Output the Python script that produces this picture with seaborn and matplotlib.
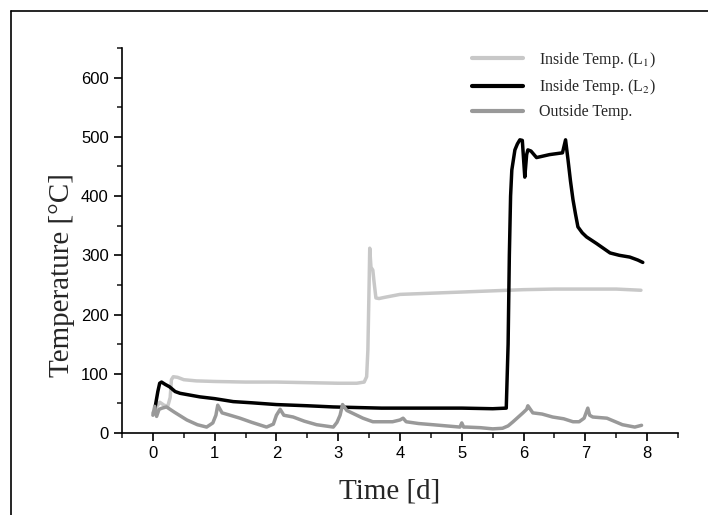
import pandas as pd
import matplotlib
matplotlib.use('Agg')
import matplotlib.pyplot as plt
from matplotlib.lines import Line2D
from matplotlib.ticker import MultipleLocator
import seaborn as sns

# Inside temperature, location L1 (days, degC)
t_l1 = [0.0, 0.05, 0.11, 0.18, 0.24, 0.28, 0.30, 0.33, 0.4, 0.5, 0.7, 1.0, 1.5, 2.0, 2.5, 3.0,
        3.3, 3.42, 3.46, 3.48, 3.50, 3.51, 3.53, 3.56, 3.58, 3.61, 3.66, 3.75, 4.0, 4.5, 5.0,
        5.5, 6.0, 6.5, 7.0, 7.5, 7.9]
v_l1 = [34, 42, 52, 47, 45, 60, 90, 95, 94, 90, 88, 87, 86, 86, 85, 84,
        84, 86, 95, 140, 250, 312, 280, 275, 255, 228, 227, 229, 234, 236, 238,
        240, 242, 243, 243, 243, 241]

# Inside temperature, location L2
t_l2 = [0.03, 0.08, 0.11, 0.14, 0.2, 0.27, 0.36, 0.44, 0.6, 0.76, 1.0, 1.3, 1.6, 2.0, 2.5,
        2.92, 3.3, 3.7, 4.2, 5.0, 5.5, 5.72, 5.75, 5.77, 5.79, 5.81, 5.86, 5.9, 5.94, 5.98,
        6.02, 6.05, 6.07, 6.12, 6.21, 6.42, 6.63, 6.68, 6.72, 6.76, 6.8, 6.84, 6.88, 6.95,
        7.02, 7.18, 7.4, 7.55, 7.72, 7.85, 7.93]
v_l2 = [40, 70, 84, 86, 82, 78, 70, 67, 64, 61, 58, 53, 51, 48, 46,
        44, 43, 42, 42, 42, 41, 42, 150, 300, 400, 444, 478, 488, 495, 494,
        432, 470, 478, 476, 465, 470, 473, 495, 461, 425, 394, 370, 348, 338,
        331, 320, 304, 300, 297, 292, 288]

# Outside temperature
t_out = [0.0, 0.03, 0.06, 0.1, 0.15, 0.22, 0.35, 0.55, 0.72, 0.87, 0.97, 1.02, 1.05, 1.12,
         1.25, 1.41, 1.6, 1.84, 1.95, 2.0, 2.06, 2.12, 2.27, 2.45, 2.65, 2.92, 2.98, 3.03,
         3.07, 3.14, 3.24, 3.4, 3.56, 3.88, 4.0, 4.05, 4.1, 4.3, 4.53, 4.75, 4.97, 5.0, 5.03,
         5.08, 5.3, 5.5, 5.66, 5.75, 5.83, 5.99, 6.05, 6.07, 6.15, 6.3, 6.47, 6.65, 6.8, 6.9,
         6.98, 7.04, 7.07, 7.12, 7.35, 7.6, 7.8, 7.91]
v_out = [30, 45, 28, 40, 42, 44, 35, 22, 14, 10, 17, 30, 47, 34,
         30, 25, 18, 10, 15, 30, 40, 30, 27, 20, 14, 10, 18, 30,
         48, 38, 33, 25, 19, 19, 22, 25, 19, 16, 14, 12, 10, 17, 10,
         10, 9, 7, 8, 12, 19, 34, 40, 46, 34, 32, 27, 24, 19, 19,
         25, 42, 30, 27, 25, 14, 10, 13]

series_names = ['Inside Temp. (L$_1$)', 'Inside Temp. (L$_2$)', 'Outside Temp.']
series_colors = ['#c8c8c8', '#000000', '#999999']

sns.set_style('ticks')
plt.rcParams['font.family'] = ['Liberation Sans', 'DejaVu Sans']
plt.rcParams['mathtext.fontset'] = 'stix'

fig = plt.figure(figsize=(7.08, 5.15), dpi=100)
ax = fig.add_axes([122 / 708, 1 - 433 / 515, 556 / 708, 385 / 515])

for t, v, name, col in zip([t_l1, t_l2, t_out], [v_l1, v_l2, v_out], series_names, series_colors):
    df = pd.DataFrame({'Time': t, 'Temp': v})
    sns.lineplot(data=df, x='Time', y='Temp', ax=ax, color=col, lw=2.5,
                 label=name, sort=False, estimator=None)

ax.set_xlim(-0.5, 8.5)
ax.set_ylim(0, 650)
ax.xaxis.set_major_locator(MultipleLocator(1))
ax.xaxis.set_minor_locator(MultipleLocator(0.5))
ax.yaxis.set_major_locator(MultipleLocator(100))
ax.yaxis.set_minor_locator(MultipleLocator(50))
ax.tick_params(which='major', direction='out', length=6, width=1.2, labelsize=12, colors='black')
ax.tick_params(which='minor', direction='out', length=3.5, width=1.2)
for s in ['left', 'bottom']:
    ax.spines[s].set_linewidth(1.2)
    ax.spines[s].set_color('black')
ax.spines['top'].set_visible(False)
ax.spines['right'].set_visible(False)

ax.set_xlabel('Time [d]', fontsize=21, family='Liberation Serif')
ax.set_ylabel('Temperature [\u00b0C]', fontsize=21, family='Liberation Serif')
ax.xaxis.set_label_coords((390 - 122) / 556, -0.118)
ax.yaxis.set_label_coords(-0.085, (433 - 275) / 385)

leg = ax.legend(loc='upper left', bbox_to_anchor=((472 - 122) / 556, 0.995), frameon=False,
                handlelength=3.2, handletextpad=1.0, labelspacing=0.45, borderpad=0,
                borderaxespad=0, prop={'family': 'Liberation Serif', 'size': 11.5})
for ln in leg.get_lines():
    ln.set_linewidth(3)

# outer frame (top and left edges visible in the original)
fig.add_artist(Line2D([11 / 708, 1], [1 - 11 / 515, 1 - 11 / 515], color='black', lw=1.2))
fig.add_artist(Line2D([11 / 708, 11 / 708], [0, 1 - 11 / 515], color='black', lw=1.2))

fig.savefig('out.png', dpi=100, facecolor='white')
